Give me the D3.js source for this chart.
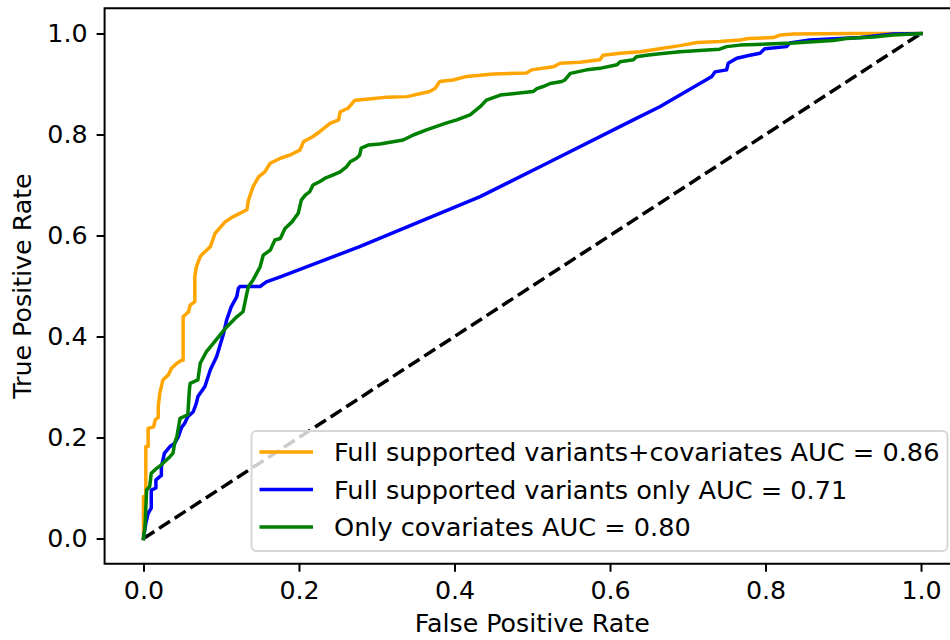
<!DOCTYPE html>
<html>
<head>
<meta charset="utf-8">
<script src="https://cdn.jsdelivr.net/npm/d3@7"></script>
<style>
  html, body { margin: 0; padding: 0; background: #fff; }
  svg { display: block; }
  text { font-family: "DejaVu Sans", sans-serif; fill: #000; }
</style>
</head>
<body>
<svg id="chart" width="950" height="640"></svg>
<script>
// ---- data ----
const xTickValues = [0.0, 0.2, 0.4, 0.6, 0.8, 1.0];
const yTickValues = [0.0, 0.2, 0.4, 0.6, 0.8, 1.0];
const xLabel = "False Positive Rate";
const yLabel = "True Positive Rate";
const seriesNames = [
  "Full supported variants+covariates AUC = 0.86",
  "Full supported variants only AUC = 0.71",
  "Only covariates AUC = 0.80"
];
const seriesColors = ["orange", "blue", "green"];

const orangeFpr = [0,0,0.003,0.003,0.006,0.006,0.013,0.015,0.019,0.019,0.021,0.025,0.032,0.036,0.043,0.049,0.051,0.051,0.058,0.060,0.066,0.066,0.068,0.073,0.077,0.086,0.092,0.096,0.105,0.115,0.133,0.135,0.141,0.148,0.156,0.163,0.176,0.188,0.201,0.206,0.218,0.227,0.240,0.251,0.253,0.263,0.272,0.287,0.313,0.339,0.368,0.375,0.381,0.398,0.416,0.450,0.493,0.499,0.527,0.536,0.561,0.587,0.591,0.613,0.639,0.664,0.690,0.712,0.741,0.767,0.778,0.810,0.819,0.836,0.913,1.0];
const orangeTpr = [0,0.083,0.083,0.182,0.182,0.218,0.221,0.235,0.240,0.261,0.288,0.314,0.324,0.337,0.347,0.353,0.353,0.439,0.449,0.462,0.469,0.518,0.538,0.558,0.565,0.578,0.604,0.611,0.627,0.637,0.651,0.670,0.697,0.716,0.726,0.743,0.753,0.759,0.769,0.786,0.796,0.806,0.822,0.829,0.845,0.852,0.868,0.870,0.874,0.875,0.885,0.891,0.905,0.908,0.915,0.920,0.922,0.928,0.934,0.941,0.943,0.948,0.957,0.961,0.964,0.970,0.976,0.982,0.984,0.987,0.990,0.992,0.997,0.999,1.0,1.0];

const blueFpr = [0,0.003,0.006,0.010,0.010,0.016,0.016,0.023,0.023,0.027,0.034,0.040,0.045,0.049,0.053,0.057,0.064,0.068,0.070,0.079,0.086,0.094,0.098,0.103,0.107,0.113,0.120,0.122,0.124,0.150,0.158,0.176,0.278,0.433,0.519,0.630,0.664,0.731,0.735,0.750,0.752,0.763,0.780,0.793,0.799,0.827,0.831,0.857,0.922,0.964,1.0];
const blueTpr = [0,0.030,0.050,0.060,0.096,0.100,0.116,0.125,0.142,0.169,0.182,0.188,0.202,0.220,0.228,0.241,0.251,0.268,0.281,0.301,0.334,0.360,0.380,0.406,0.433,0.459,0.479,0.495,0.499,0.499,0.508,0.518,0.578,0.677,0.743,0.829,0.855,0.915,0.924,0.928,0.941,0.951,0.957,0.961,0.970,0.974,0.981,0.987,0.992,0.999,1.0];

const greenFpr = [0,0.002,0.004,0.008,0.010,0.017,0.023,0.027,0.034,0.038,0.040,0.043,0.047,0.057,0.059,0.060,0.070,0.073,0.081,0.090,0.107,0.120,0.128,0.133,0.135,0.141,0.150,0.154,0.163,0.169,0.176,0.182,0.191,0.199,0.203,0.208,0.214,0.218,0.227,0.233,0.244,0.253,0.261,0.266,0.274,0.278,0.280,0.289,0.304,0.334,0.347,0.364,0.390,0.403,0.420,0.433,0.441,0.459,0.501,0.506,0.514,0.523,0.538,0.542,0.549,0.570,0.587,0.609,0.613,0.630,0.634,0.647,0.664,0.690,0.720,0.741,0.750,0.767,0.802,0.836,0.866,0.887,0.904,0.939,0.964,1.0];
const greenTpr = [0,0.023,0.096,0.103,0.129,0.139,0.146,0.152,0.162,0.169,0.188,0.202,0.238,0.245,0.294,0.307,0.314,0.347,0.370,0.387,0.419,0.439,0.449,0.486,0.499,0.512,0.538,0.561,0.571,0.591,0.594,0.614,0.627,0.644,0.670,0.680,0.687,0.700,0.707,0.713,0.720,0.726,0.736,0.746,0.753,0.759,0.773,0.779,0.781,0.789,0.799,0.809,0.823,0.829,0.839,0.855,0.868,0.878,0.885,0.891,0.895,0.901,0.905,0.908,0.921,0.928,0.931,0.938,0.944,0.948,0.954,0.957,0.960,0.964,0.967,0.969,0.974,0.977,0.979,0.981,0.984,0.986,0.990,0.993,0.997,1.0];

const chanceFpr = [0, 1];
const chanceTpr = [0, 1];

// ---- drawing ----
const svg = d3.select("#chart");
const FONT = 25.3;
const LEGEND_FONT = 25.6;
const LW = 3.5;

const x = d3.scaleLinear().domain([-0.05, 1.05]).range([104.6, 959.9]);
const y = d3.scaleLinear().domain([-0.05, 1.05]).range([563.75, 8.25]);

const plot = svg.append("g");
const line = d3.line().x(d => x(d[0])).y(d => y(d[1]));
const zip = (a, b) => a.map((v, i) => [v, b[i]]);

// chance line
plot.append("path")
  .datum(zip(chanceFpr, chanceTpr))
  .attr("d", line)
  .attr("fill", "none")
  .attr("stroke", "#000")
  .attr("stroke-width", LW)
  .attr("stroke-dasharray", "13,5.6");

const series = [zip(orangeFpr, orangeTpr), zip(blueFpr, blueTpr), zip(greenFpr, greenTpr)];
series.forEach((s, i) => {
  plot.append("path")
    .datum(s)
    .attr("d", line)
    .attr("fill", "none")
    .attr("stroke", seriesColors[i])
    .attr("stroke-width", LW)
    .attr("stroke-linejoin", "round")
    .attr("stroke-linecap", "square");
});

// axes
const xAxis = d3.axisBottom(x).tickValues(xTickValues).tickFormat(d3.format(".1f")).tickSize(8).tickPadding(9);
const yAxis = d3.axisLeft(y).tickValues(yTickValues).tickFormat(d3.format(".1f")).tickSize(8).tickPadding(9);

const gx = svg.append("g").attr("transform", `translate(0,${y(-0.05)})`).call(xAxis);
const gy = svg.append("g").attr("transform", `translate(${x(-0.05)},0)`).call(yAxis);
[gx, gy].forEach(g => {
  g.select(".domain").remove();
  g.selectAll(".tick line").attr("stroke", "#000").attr("stroke-width", 2);
  g.selectAll(".tick text").attr("font-size", FONT).attr("font-family", "DejaVu Sans").attr("fill", "#000");
});

// frame
svg.append("rect")
  .attr("x", x(-0.05)).attr("y", y(1.05))
  .attr("width", x(1.05) - x(-0.05)).attr("height", y(-0.05) - y(1.05))
  .attr("fill", "none").attr("stroke", "#000").attr("stroke-width", 2);

// axis labels
svg.append("text")
  .attr("x", x(0.5)).attr("y", 632)
  .attr("text-anchor", "middle").attr("font-size", FONT)
  .text(xLabel);
svg.append("text")
  .attr("transform", `translate(31,${y(0.5)}) rotate(-90)`)
  .attr("text-anchor", "middle").attr("font-size", FONT)
  .text(yLabel);

// legend
const lg = svg.append("g");
lg.append("rect")
  .attr("x", 251.5).attr("y", 431)
  .attr("width", 696).attr("height", 120)
  .attr("rx", 5).attr("ry", 5)
  .attr("fill", "#fff").attr("fill-opacity", 0.8)
  .attr("stroke", "#d6d6d6").attr("stroke-width", 2);
const rowY = [452, 489.5, 527];
seriesNames.forEach((name, i) => {
  lg.append("line")
    .attr("x1", 259.5).attr("x2", 313)
    .attr("y1", rowY[i]).attr("y2", rowY[i])
    .attr("stroke", seriesColors[i]).attr("stroke-width", LW);
  lg.append("text")
    .attr("x", 334).attr("y", rowY[i])
    .attr("dy", "0.36em")
    .attr("font-size", LEGEND_FONT)
    .text(name);
});
</script>
</body>
</html>
